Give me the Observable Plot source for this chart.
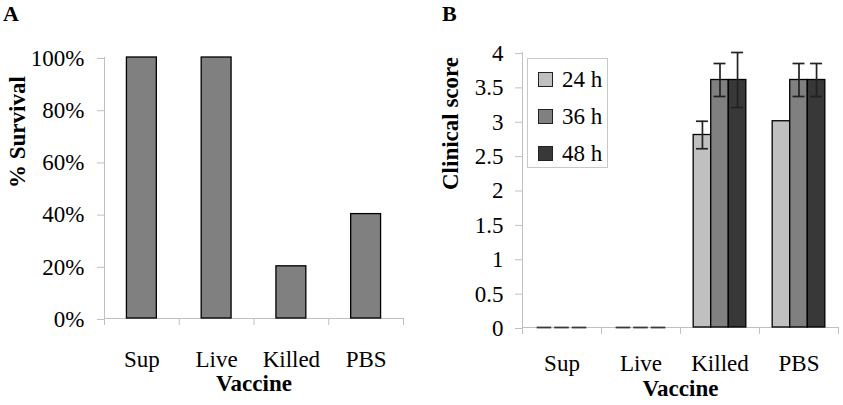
<!DOCTYPE html>
<html><head><meta charset="utf-8">
<script src="https://cdn.jsdelivr.net/npm/d3@7"></script>
<script src="https://cdn.jsdelivr.net/npm/@observablehq/plot@0.6"></script>
<style>
body{margin:0;background:#fff;}
#root{position:relative;width:843px;height:405px;overflow:hidden;background:#fff;font-family:"Liberation Serif","Times New Roman",serif;color:#000;}
.panel{position:absolute;top:0;z-index:1;}
.plab{position:absolute;font-weight:bold;font-size:22px;line-height:24px;top:2px;z-index:3;}
#legend{position:absolute;z-index:2;left:527px;top:58px;width:81px;height:110px;border:1px solid #c8c8c8;box-sizing:border-box;background:#fff;padding:2px 0 0 10px;}
.lrow{display:flex;align-items:center;height:37px;font-size:23px;}
.sw{width:13px;height:13px;border:1px solid #222;margin-right:9px;flex:none;}
</style>
</head><body>
<div id="root">
  <div class="plab" style="left:3px">A</div>
  <div class="plab" style="left:442px">B</div>
  <div id="panelA" class="panel" style="left:0"></div>
  <div id="panelB" class="panel" style="left:420px"></div>
  <div id="legend"></div>
</div>
<script>
// ---- data ----
const categories = ["Sup", "Live", "Killed", "PBS"];
const survival = [1.0, 1.0, 0.2, 0.4];
const survivalTicks = [0, 0.2, 0.4, 0.6, 0.8, 1.0];
const series = ["24 h", "36 h", "48 h"];
const score24 = [0, 0, 2.8, 3.0];
const score36 = [0, 0, 3.6, 3.6];
const score48 = [0, 0, 3.6, 3.6];
const err24 = [0, 0, 0.2, 0];
const err36 = [0, 0, 0.24, 0.24];
const err48 = [0, 0, 0.4, 0.24];
const scoreTicks = [0, 0.5, 1, 1.5, 2, 2.5, 3, 3.5, 4];
const seriesColors = ["#c0c0c0", "#808080", "#383838"];
const xTitle = "Vaccine";
const yTitleA = "% Survival";
const yTitleB = "Clinical score";

const FONT = "'Liberation Serif','Times New Roman',serif";
const FS = 23;
const AXIS = "#c0c0c0";
const catCenters = categories.map((c, i) => i + 0.5);
const boundaries = d3.range(categories.length + 1);
const txt = {fontFamily: FONT, fontSize: FS, fill: "black"};

// ---- panel A ----
const dataA = categories.map((c, i) => ({c, i, v: survival[i]}));
const plotA = Plot.plot({
  width: 420, height: 405,
  marginLeft: 104, marginRight: 17, marginTop: 57, marginBottom: 87,
  style: {fontFamily: FONT, fontSize: FS + "px", background: "white", color: "black", overflow: "visible"},
  x: {domain: [0, categories.length], axis: null},
  y: {domain: [0, 1], axis: null},
  marks: [
    Plot.ruleX([0], {stroke: AXIS, insetBottom: -7}),
    Plot.ruleY([0], {stroke: AXIS}),
    Plot.ruleX(boundaries.slice(1), {y1: 0, y2: 0, insetBottom: -7, stroke: AXIS}),
    Plot.axisY({ticks: survivalTicks, tickFormat: d3.format(".0%"), tickSize: 7, tickPadding: 13, stroke: AXIS, label: null, dy: 1, ...txt}),
    Plot.axisX({ticks: catCenters, tickFormat: d => categories[Math.floor(d)], tickSize: 0, tickPadding: 32, label: null, ...txt}),
    Plot.rect(dataA, {x1: d => d.i + 0.3, x2: d => d.i + 0.7, y1: 0, y2: "v", fill: "#808080", stroke: "black", strokeWidth: 1.3}),
    Plot.text([yTitleA], {frameAnchor: "left", dx: -87, rotate: -90, fontWeight: "bold", ...txt}),
    Plot.text([xTitle], {frameAnchor: "bottom", dy: 72, fontWeight: "bold", ...txt})
  ]
});
document.getElementById("panelA").appendChild(plotA);

// ---- panel B ----
const scores = [score24, score36, score48];
const errs = [err24, err36, err48];
const dataB = [];
categories.forEach((c, i) => series.forEach((s, j) => dataB.push({c, i, j, s, v: scores[j][i], e: errs[j][i]})));
const bw = 2 / 9, off = 1 / 6;
const bx1 = d => d.i + off + d.j * bw;
const bx2 = d => d.i + off + (d.j + 1) * bw;
const bxc = d => d.i + off + (d.j + 0.5) * bw;
const errData = dataB.filter(d => d.e > 0);

const plotB = Plot.plot({
  width: 423, height: 405,
  marginLeft: 102, marginRight: 5, marginTop: 52, marginBottom: 78,
  style: {fontFamily: FONT, fontSize: FS + "px", background: "white", color: "black", overflow: "visible"},
  x: {domain: [0, categories.length], axis: null},
  y: {domain: [0, 4], axis: null},
  color: {domain: series, range: seriesColors},
  marks: [
    Plot.ruleX([0], {stroke: AXIS, insetBottom: -7}),
    Plot.ruleY([0], {stroke: AXIS}),
    Plot.ruleX(boundaries.slice(1), {y1: 0, y2: 0, insetBottom: -7, stroke: AXIS}),
    Plot.axisY({ticks: scoreTicks, tickFormat: d => String(d), tickSize: 7, tickPadding: 12, stroke: AXIS, label: null, dy: 1, ...txt}),
    Plot.axisX({ticks: catCenters, tickFormat: d => categories[Math.floor(d)], tickSize: 0, tickPadding: 27, label: null, ...txt}),
    Plot.rect(dataB.filter(d => d.v > 0), {x1: bx1, x2: bx2, y1: 0, y2: "v", fill: "s", stroke: "black", strokeWidth: 1.3}),
    Plot.ruleY(dataB.filter(d => d.v === 0), {x1: bx1, x2: bx2, y: "v", stroke: "#3a3a3a", strokeWidth: 1.8, insetLeft: 1.5, insetRight: 1.5}),
    Plot.ruleX(errData, {x: bxc, y1: d => d.v - d.e, y2: d => d.v + d.e, stroke: "#222", strokeWidth: 1.7}),
    Plot.ruleY(errData, {x1: bxc, x2: bxc, y: d => d.v + d.e, insetLeft: -6, insetRight: -6, stroke: "#222", strokeWidth: 1.7}),
    Plot.ruleY(errData, {x1: bxc, x2: bxc, y: d => d.v - d.e, insetLeft: -6, insetRight: -6, stroke: "#222", strokeWidth: 1.7}),
    Plot.text([yTitleB], {frameAnchor: "left", dx: -72, rotate: -90, fontWeight: "bold", ...txt}),
    Plot.text([xTitle], {frameAnchor: "bottom", dy: 68, fontWeight: "bold", ...txt})
  ]
});
document.getElementById("panelB").appendChild(plotB);

// ---- legend ----
const legend = document.getElementById("legend");
series.forEach((s, j) => {
  const row = document.createElement("div");
  row.className = "lrow";
  const sw = document.createElement("span");
  sw.className = "sw";
  sw.style.background = seriesColors[j];
  const lab = document.createElement("span");
  lab.textContent = s;
  row.appendChild(sw); row.appendChild(lab);
  legend.appendChild(row);
});
</script>
</body></html>
